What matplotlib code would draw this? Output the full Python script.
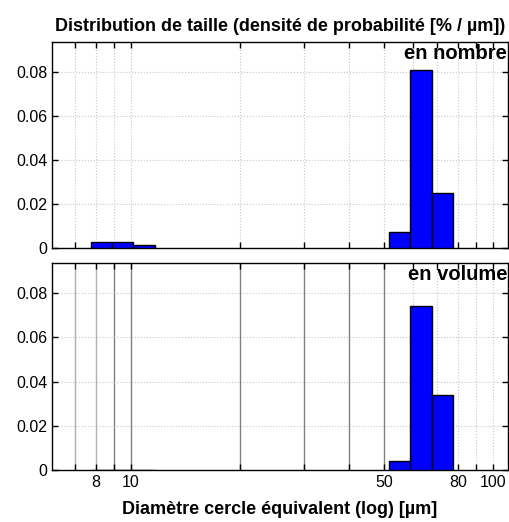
import numpy as np
import matplotlib.pyplot as plt
from matplotlib.ticker import FixedLocator, NullFormatter

plt.rcParams['font.family'] = ['Liberation Sans', 'DejaVu Sans']

# bin edges (µm)
bin_edges = [7.74, 8.85, 10.15, 11.63, 51.5, 59.0, 67.7, 77.4]
left_bins = [0, 1, 2]
right_bins = [4, 5, 6]

# densities [% / µm]
nombre_left = [0.0028, 0.0028, 0.0012]
nombre_right = [0.0074, 0.081, 0.025]
volume_left = [0.0001, 0.0001, 0.0001]
volume_right = [0.0043, 0.0742, 0.034]

grid_x = [7, 8, 9, 10, 20, 30, 40, 50, 60, 70, 80, 90, 100]
solid_x = [7, 8, 9, 10, 20, 30, 40, 50]
xtick_vals = [8, 10, 50, 80, 100]
xtick_labels = ['8', '10', '50', '80', '100']
ytick_vals = [0, 0.02, 0.04, 0.06, 0.08]
ytick_labels = ['0', '0.02', '0.04', '0.06', '0.08']

fig = plt.figure(figsize=(5.1, 5.22), dpi=100)
ax1 = fig.add_axes([0.102, 0.525, 0.894, 0.395])
ax2 = fig.add_axes([0.102, 0.0996, 0.894, 0.397])


def draw_panel(ax, left_vals, right_vals, label, solid_lines):
    ax.set_xscale('log')
    ax.set_xlim(6.05, 110)
    ax.set_ylim(0, 0.0938)
    # grid
    for g in grid_x:
        if solid_lines and g in solid_x:
            c = '#b0b0b0' if g < 9 else '#808080'
            ax.axvline(g, color=c, lw=1.0, zorder=1)
        else:
            ax.axvline(g, color='#c8c8c8', lw=0.8, ls=':', zorder=1)
    for yv in ytick_vals[1:]:
        ax.axhline(yv, color='#c8c8c8', lw=0.8, ls=':', zorder=1)
    for idx, v in zip(left_bins + right_bins, left_vals + right_vals):
        lo, hi = bin_edges[idx], bin_edges[idx + 1]
        ax.bar(lo, v, width=hi - lo, align='edge', color='#0000ff',
               edgecolor='black', lw=1.0, zorder=3)
    ax.xaxis.set_major_locator(FixedLocator(grid_x))
    ax.xaxis.set_minor_locator(FixedLocator([]))
    ax.set_yticks(ytick_vals)
    ax.set_yticklabels(ytick_labels, fontsize=11.5)
    ax.tick_params(direction='in', length=4, top=True, right=True, width=1)
    for s in ax.spines.values():
        s.set_linewidth(1.0)
    ax.text(0.998, 0.99, label, transform=ax.transAxes, ha='right', va='top',
            fontsize=14.5, fontweight='bold', zorder=5)


draw_panel(ax1, nombre_left, nombre_right, 'en nombre', False)
draw_panel(ax2, volume_left, volume_right, 'en volume', True)

ax1.xaxis.set_major_formatter(NullFormatter())
ax2.set_xticks(grid_x)
ax2.set_xticklabels([xtick_labels[xtick_vals.index(g)] if g in xtick_vals else '' for g in grid_x],
                    fontsize=11.5)

ax1.set_title('Distribution de taille (densité de probabilité [% / µm])',
              fontsize=13, fontweight='bold', pad=8)
ax2.set_xlabel('Diamètre cercle équivalent (log) [µm]', fontsize=13,
               fontweight='bold', labelpad=8)

fig.savefig('out.png', dpi=100)
